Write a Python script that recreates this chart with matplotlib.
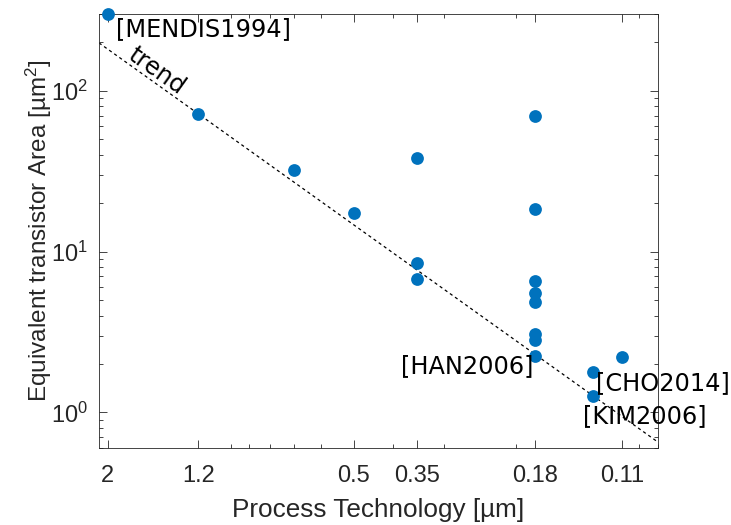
import numpy as np
import matplotlib
matplotlib.use("Agg")
import matplotlib.pyplot as plt
from matplotlib.ticker import FixedLocator, FixedFormatter, LogLocator, LogFormatterMathtext, NullFormatter

plt.rcParams['font.family'] = ['Liberation Sans', 'DejaVu Sans']
plt.rcParams['mathtext.fontset'] = 'custom'
plt.rcParams['mathtext.rm'] = 'Liberation Sans'
plt.rcParams['mathtext.it'] = 'Liberation Sans:italic'
plt.rcParams['mathtext.bf'] = 'Liberation Sans:bold'

# process node [um] and equivalent transistor area [um^2]
node = [2, 1.2, 0.7, 0.5, 0.35, 0.35, 0.35,
        0.18, 0.18, 0.18, 0.18, 0.18, 0.18, 0.18, 0.18,
        0.13, 0.13, 0.11]
area = [300, 72, 32, 17.3, 37.9, 8.5, 6.7,
        70, 18.3, 6.6, 5.56, 4.82, 3.07, 2.83, 2.23,
        1.78, 1.27, 2.21]

# trend: area = coef * node^expo
trend_coef = 51.6
trend_expo = 1.815

# annotations (text, x, y)
refs = ['[MENDIS1994]', '[HAN2006]', '[CHO2014]', '[KIM2006]']
ref_x = [1.91, 0.384, 0.1275, 0.137]
ref_y = [242, 1.93, 1.53, 0.944]

xticks = [2, 1.2, 0.5, 0.35, 0.18, 0.11]
xticklabels = ['2', '1.2', '0.5', '0.35', '0.18', '0.11']

blue = '#0072BD'
axcol = '#262626'

fig = plt.figure(figsize=(7.31, 5.25), dpi=100)
ax = fig.add_axes([0.1354, 0.1467, 0.7647, 0.8266])

ax.set_xscale('log')
ax.set_yscale('log')
ax.set_xlim(2.1, 0.09)
ax.set_ylim(0.6, 300)

tx = np.array([2.1, 0.09])
ax.plot(tx, trend_coef * tx ** trend_expo, ls=(0, (2.5, 2.5)), color='k', lw=0.9, zorder=2)

ax.plot(node, area, 'o', color=blue, markersize=9.2, markeredgewidth=0, zorder=3, clip_on=False)

for t, x, y in zip(refs, ref_x, ref_y):
    ax.text(x, y, t, ha='left', va='center', fontsize=17.3, family='DejaVu Sans', color='k')

ax.text(1.517, 133, 'trend', ha='center', va='center', rotation=-35.5,
        fontsize=17.3, family='DejaVu Sans', color='k')

ax.xaxis.set_major_locator(FixedLocator(xticks))
ax.xaxis.set_major_formatter(FixedFormatter(xticklabels))
ax.xaxis.set_minor_locator(LogLocator(base=10, subs=np.arange(1, 10)))
ax.xaxis.set_minor_formatter(NullFormatter())
ax.yaxis.set_major_locator(LogLocator(base=10))
ax.yaxis.set_major_formatter(LogFormatterMathtext())
ax.yaxis.set_minor_locator(LogLocator(base=10, subs=np.arange(2, 10)))
ax.yaxis.set_minor_formatter(NullFormatter())

ax.tick_params(which='both', direction='in', top=True, right=True, colors=axcol,
               labelsize=17, width=0.6)
ax.tick_params(which='major', length=5.5)
ax.tick_params(axis='x', which='major', pad=12)
ax.tick_params(axis='y', which='major', pad=8)
ax.tick_params(which='minor', length=3)
for s in ax.spines.values():
    s.set_color(axcol)
    s.set_linewidth(0.6)

ax.set_xlabel('Process Technology [µm]', fontsize=18.8, color=axcol, labelpad=8)
ax.set_ylabel('Equivalent transistor Area [µm$^2$]', fontsize=17.5, color=axcol, labelpad=-2)

fig.savefig('out.png', dpi=100)
